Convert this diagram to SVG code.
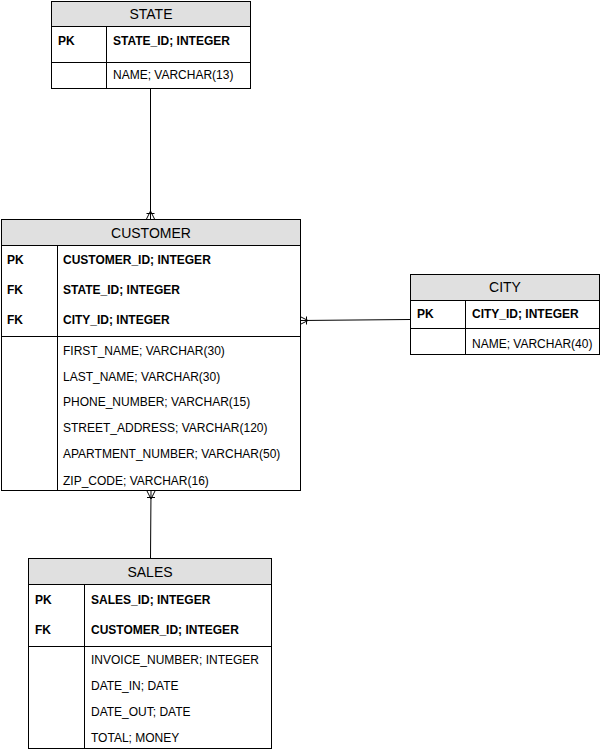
<svg xmlns="http://www.w3.org/2000/svg" width="601" height="751" viewBox="0 0 601 751">
<style>
.box{fill:#ffffff;stroke:#000;stroke-width:1}
.hdr{fill:#e0e0e0;stroke:#000;stroke-width:1}
.ln{stroke:#000;stroke-width:1;fill:none}
.t{font-family:"Liberation Sans",Arial,sans-serif;font-size:12px;fill:#000}
.b{font-weight:bold}
.h{font-family:"Liberation Sans",Arial,sans-serif;font-size:14px;fill:#000;text-anchor:middle}
.c{stroke:#000;stroke-width:1;fill:none}
</style>
<rect width="601" height="751" fill="#fff"/>
<g id="connectors">
<path class="c" d="M150.5 89V219"/>
<path class="c" d="M146.5 219L150.5 211L154.5 219M146.5 213.5H154.5"/>
<path class="c" d="M410 319.5L300 320.5"/>
<path class="c" d="M300 316.5L308 320.5L300 324.5M306.5 316.5V324.5"/>
<path class="c" d="M150.5 558L151 491"/>
<path class="c" d="M147 491L151 499L155 491M147 497.5H155"/>
</g>
<g id="state">
<rect class="box" x="51.5" y="1.5" width="199" height="87"/>
<rect class="hdr" x="51.5" y="1.5" width="199" height="25"/>
<path class="ln" d="M51.5 62.5H250.5M106.5 26.5V88.5"/>
<text class="h" x="151" y="19">STATE</text>
<text class="t b" x="58" y="45">PK</text>
<text class="t b" x="113" y="45">STATE_ID; INTEGER</text>
<text class="t" x="113" y="79">NAME; VARCHAR(13)</text>
</g>
<g id="customer">
<rect class="box" x="1.5" y="219.5" width="299" height="271"/>
<rect class="hdr" x="1.5" y="219.5" width="299" height="26"/>
<path class="ln" d="M1.5 336.5H300.5M57.5 245.5V490.5"/>
<text class="h" x="151" y="238">CUSTOMER</text>
<text class="t b" x="7" y="264">PK</text>
<text class="t b" x="63" y="264">CUSTOMER_ID; INTEGER</text>
<text class="t b" x="7" y="294">FK</text>
<text class="t b" x="63" y="294">STATE_ID; INTEGER</text>
<text class="t b" x="7" y="324">FK</text>
<text class="t b" x="63" y="324">CITY_ID; INTEGER</text>
<text class="t" x="63" y="355">FIRST_NAME; VARCHAR(30)</text>
<text class="t" x="63" y="381">LAST_NAME; VARCHAR(30)</text>
<text class="t" x="63" y="406">PHONE_NUMBER; VARCHAR(15)</text>
<text class="t" x="63" y="432">STREET_ADDRESS; VARCHAR(120)</text>
<text class="t" x="63" y="458">APARTMENT_NUMBER; VARCHAR(50)</text>
<text class="t" x="63" y="485">ZIP_CODE; VARCHAR(16)</text>
</g>
<g id="city">
<rect class="box" x="410.5" y="274.5" width="189" height="80"/>
<rect class="hdr" x="410.5" y="274.5" width="189" height="26"/>
<path class="ln" d="M410.5 328.5H599.5M465.5 300.5V354.5"/>
<text class="h" x="505" y="292">CITY</text>
<text class="t b" x="417" y="318">PK</text>
<text class="t b" x="472" y="318">CITY_ID; INTEGER</text>
<text class="t" x="472" y="348">NAME; VARCHAR(40)</text>
</g>
<g id="sales">
<rect class="box" x="28.5" y="558.5" width="243" height="190"/>
<rect class="hdr" x="28.5" y="558.5" width="243" height="26"/>
<path class="ln" d="M28.5 646.5H271.5M84.5 584.5V748.5"/>
<text class="h" x="150" y="577">SALES</text>
<text class="t b" x="35" y="604">PK</text>
<text class="t b" x="91" y="604">SALES_ID; INTEGER</text>
<text class="t b" x="35" y="634">FK</text>
<text class="t b" x="91" y="634">CUSTOMER_ID; INTEGER</text>
<text class="t" x="91" y="664">INVOICE_NUMBER; INTEGER</text>
<text class="t" x="91" y="690">DATE_IN; DATE</text>
<text class="t" x="91" y="716">DATE_OUT; DATE</text>
<text class="t" x="91" y="742">TOTAL; MONEY</text>
</g>
</svg>
